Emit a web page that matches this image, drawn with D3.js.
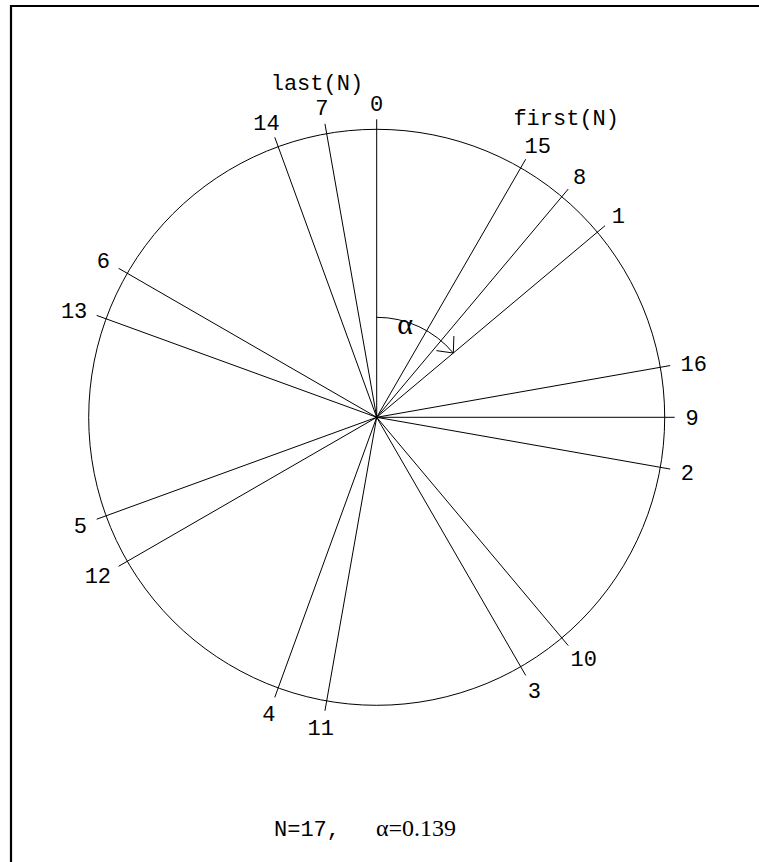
<!DOCTYPE html>
<html>
<head>
<meta charset="utf-8">
<script src="https://cdn.jsdelivr.net/npm/d3@7"></script>
<style>
html,body{margin:0;padding:0;background:#fff;}
svg{display:block;}
</style>
</head>
<body>
<svg id="chart" width="759" height="862"></svg>
<script>
// ---- data ----
const spokeLabels = ["0","1","2","3","4","5","6","7","8","9","10","11","12","13","14","15","16"];
// angle of each spoke, degrees clockwise from 12 o'clock
const spokeAngles = [0, 50, 100, 150, 200, 250, 300, 350, 40, 90, 140, 190, 240, 290, 340, 30, 80];
const alphaIndex = 1;              // spoke where the alpha arc ends
const firstLabel = "first(N)";
const lastLabel = "last(N)";
const firstIndex = 15;
const lastIndex = 7;
const captionN = "N=17,";
const captionAlpha = "\u03B1=0.139";
const alphaSymbol = "\u03B1";

// ---- layout ----
const svg = d3.select("#chart");
const W = 759, H = 862;
const cx = 376.7, cy = 417.3;
const R = 288;

const ang = d3.scaleLinear().domain([0, 360]).range([0, 2 * Math.PI]);
const rad = d3.scaleLinear().domain([0, 1]).range([0, R]);

// frame (only top and left edges visible)
svg.append("path")
  .attr("d", `M11,${H} L11,6 L${W},6`)
  .attr("fill", "none").attr("stroke", "#000").attr("stroke-width", 2.2);

const g = svg.append("g").attr("transform", `translate(${cx},${cy})`);

// circle
g.append("circle").attr("r", rad(1)).attr("fill", "none").attr("stroke", "#000").attr("stroke-width", 1);

// spokes
const spokeLen = rad(1) + 10;
g.selectAll("line.spoke").data(spokeAngles).join("line")
  .attr("class", "spoke")
  .attr("x1", 0).attr("y1", 0)
  .attr("x2", d => d3.pointRadial(ang(d), spokeLen)[0])
  .attr("y2", d => d3.pointRadial(ang(d), spokeLen)[1])
  .attr("stroke", "#000").attr("stroke-width", 1);

// spoke labels: text box pushed outward from a base radius
const monoFont = "'Liberation Mono','Courier New',monospace";
const baseR = rad(1) + 21;
const charW = 13, halfH = 5.7;
function labelPos(deg, nChars) {
  const t = ang(deg);
  const s = Math.sin(t), c = Math.cos(t);
  const a = baseR + nChars * charW / 2;
  const b = baseR + halfH;
  return [s * a, -c * b];
}
g.selectAll("text.lab").data(spokeAngles).join("text")
  .attr("class", "lab")
  .attr("x", (d, i) => labelPos(d, spokeLabels[i].length)[0])
  .attr("y", (d, i) => labelPos(d, spokeLabels[i].length)[1])
  .attr("dy", "0.36em")
  .attr("text-anchor", "middle")
  .attr("font-family", monoFont).attr("font-size", 22)
  .text((d, i) => spokeLabels[i]);

// first / last labels
const pf = labelPos(spokeAngles[firstIndex], spokeLabels[firstIndex].length);
g.append("text")
  .attr("x", pf[0] + 28.5).attr("y", pf[1] - 28).attr("dy", "0.36em")
  .attr("text-anchor", "middle")
  .attr("font-family", monoFont).attr("font-size", 22)
  .text(firstLabel);
const pl = labelPos(spokeAngles[lastIndex], spokeLabels[lastIndex].length);
g.append("text")
  .attr("x", pl[0] - 5).attr("y", pl[1] - 25).attr("dy", "0.36em")
  .attr("text-anchor", "middle")
  .attr("font-family", monoFont).attr("font-size", 22)
  .text(lastLabel);

// alpha arc with arrowhead
const arcR = 100;
const a1 = ang(spokeAngles[alphaIndex]);
const p = d3.path();
p.arc(0, 0, arcR, -Math.PI / 2, -Math.PI / 2 + a1, false);
g.append("path").attr("d", p.toString()).attr("fill", "none").attr("stroke", "#000").attr("stroke-width", 1);
const tip = d3.pointRadial(a1, arcR);
const tx = Math.cos(a1), ty = Math.sin(a1);
const back = Math.atan2(-ty, -tx);
const headLen = 17, headSpread = 42 * Math.PI / 180;
[back - headSpread, back + headSpread].forEach(t => {
  g.append("line")
    .attr("x1", tip[0]).attr("y1", tip[1])
    .attr("x2", tip[0] + headLen * Math.cos(t))
    .attr("y2", tip[1] + headLen * Math.sin(t))
    .attr("stroke", "#000").attr("stroke-width", 1);
});
const pa = d3.pointRadial(ang(17), 97);
g.append("text")
  .attr("x", pa[0]).attr("y", pa[1]).attr("dy", "0.3em")
  .attr("text-anchor", "middle")
  .attr("font-family", "'Liberation Serif','Times New Roman',serif").attr("font-size", 30)
  .text(alphaSymbol);

// caption
svg.append("text")
  .attr("x", 274).attr("y", 836)
  .attr("font-family", monoFont).attr("font-size", 22)
  .text(captionN);
svg.append("text")
  .attr("x", 376).attr("y", 836)
  .attr("font-family", "'Liberation Serif','Times New Roman',serif").attr("font-size", 24)
  .text(captionAlpha);
</script>
</body>
</html>
